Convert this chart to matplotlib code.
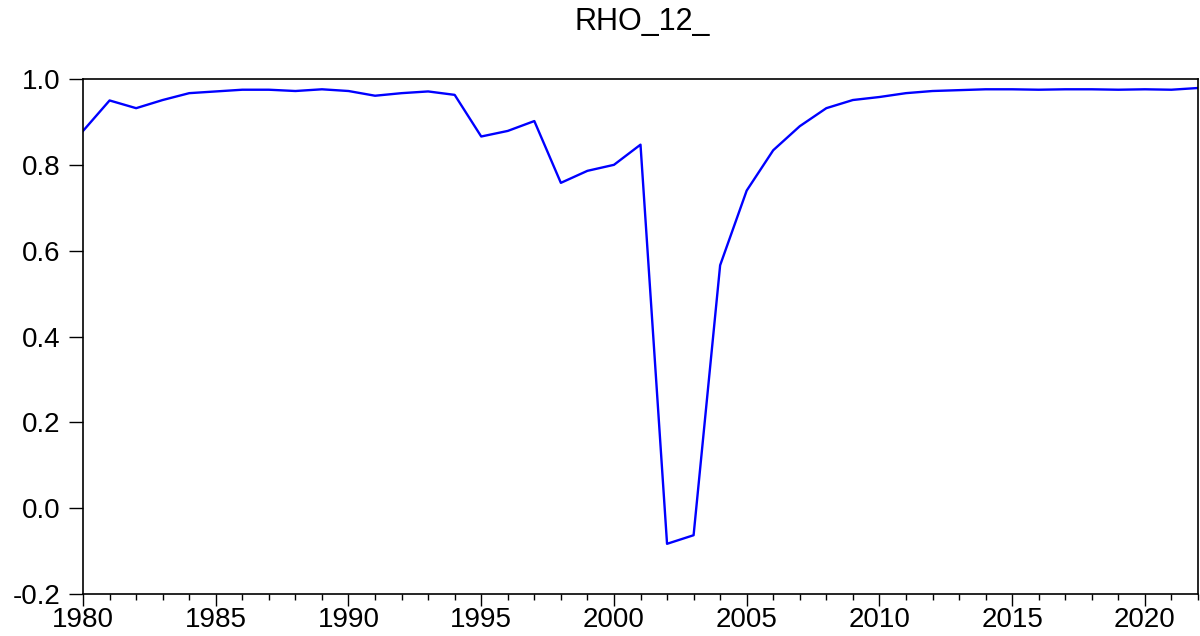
import numpy as np
import matplotlib
matplotlib.use("Agg")
import matplotlib.pyplot as plt
from matplotlib.ticker import MultipleLocator

# --------------------------------------------------
# Data
# --------------------------------------------------
years = list(range(1980, 2023))
rho_12 = [
    0.879, 0.950, 0.932, 0.951, 0.967, 0.971, 0.975, 0.975, 0.972, 0.976,
    0.972, 0.961, 0.967, 0.971, 0.963, 0.866, 0.879, 0.902, 0.758, 0.786,
    0.800, 0.847, -0.083, -0.063, 0.566, 0.740, 0.834, 0.890, 0.932, 0.951,
    0.958, 0.967, 0.972, 0.974, 0.976, 0.976, 0.975, 0.976, 0.976, 0.975,
    0.976, 0.975, 0.979,
]
y_ticks = [-0.2, 0.0, 0.2, 0.4, 0.6, 0.8, 1.0]
x_ticks = [1980, 1985, 1990, 1995, 2000, 2005, 2010, 2015, 2020]

plt.rcParams["font.family"] = ["Liberation Sans", "DejaVu Sans"]

# --------------------------------------------------
# Plot
# --------------------------------------------------
fig = plt.figure(figsize=(12, 6.36), dpi=100)
ax = fig.add_axes([0.0692, 0.066, 0.9291, 0.8098])

ax.plot(years, rho_12, color="#0000ff", linewidth=1.7)

ax.set_xlim(1980, 2022)
ax.set_ylim(-0.2, 1.0)
ax.set_yticks(y_ticks)
ax.set_yticklabels([f"{v:.1f}" for v in y_ticks])
ax.set_xticks(x_ticks)
ax.xaxis.set_minor_locator(MultipleLocator(1))

ax.tick_params(axis="y", length=10, width=1, labelsize=20, pad=6)
ax.tick_params(axis="x", which="major", length=8.5, width=1, labelsize=20, pad=1)
ax.tick_params(axis="x", which="minor", length=4.3, width=1)

for side in ["left", "bottom", "right", "top"]:
    ax.spines[side].set_linewidth(1.2)
    ax.spines[side].set_color("black")

fig.text(0.535, 0.966, "RHO_12_", ha="center", va="center", fontsize=22)

plt.savefig("out.png", dpi=100)
plt.close()
